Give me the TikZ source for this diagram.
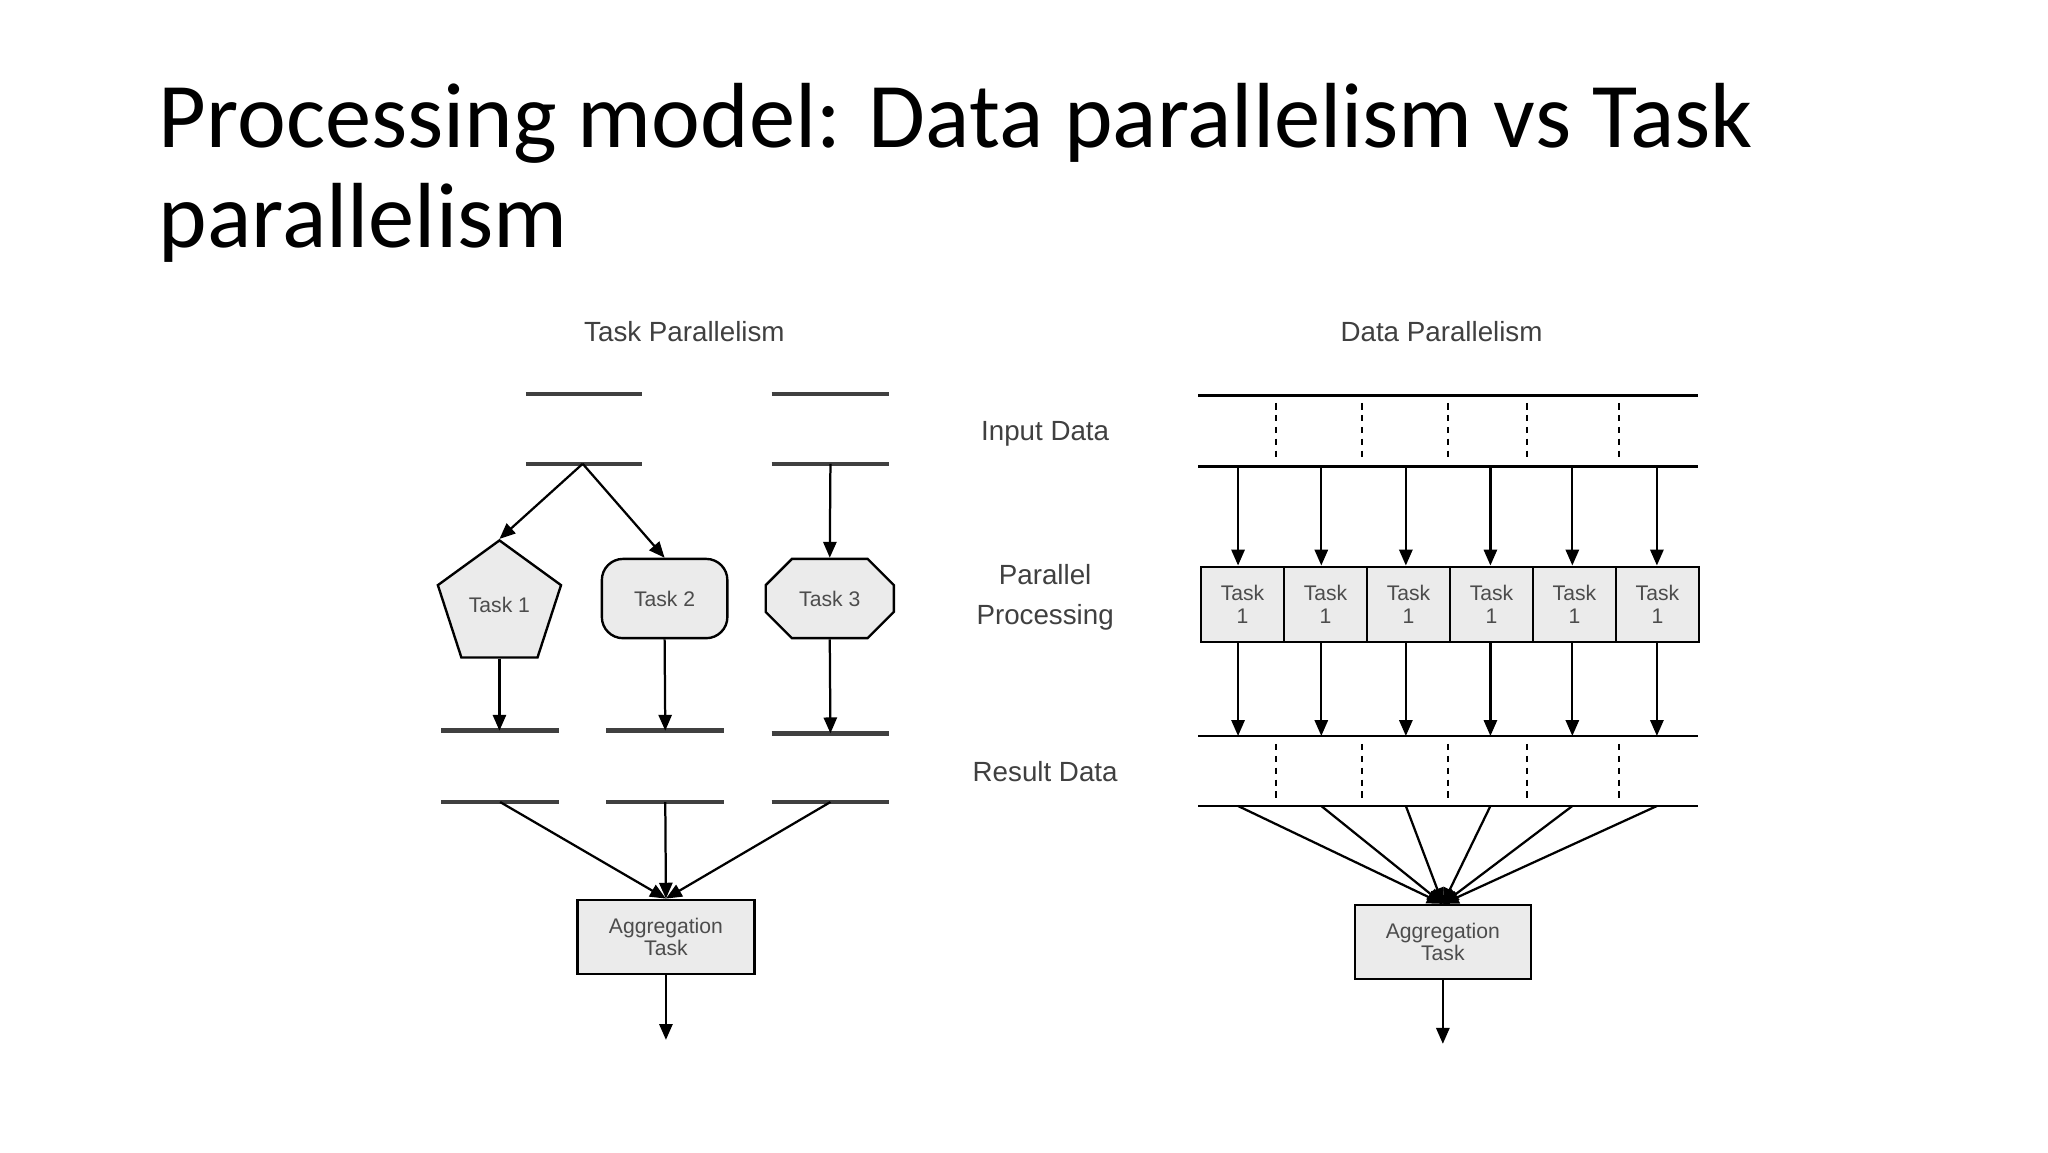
\documentclass[tikz,border=0pt]{standalone}
\usepackage{fontspec}
\setmainfont{Carlito}
\newfontfamily\dia{Liberation Sans}
\usetikzlibrary{shapes.geometric,shapes.misc,arrows.meta}
\begin{document}
\begin{tikzpicture}[x=1pt,y=-1pt,
  bar/.style={line width=3.4pt,draw=black!75},
  arr/.style={line width=1.7pt,-{Triangle[length=12pt,width=10pt]}},
  ln/.style={line width=2.2pt},
  dsh/.style={line width=1.6pt,dashed,dash pattern=on 5pt off 4pt},
  lab/.style={font=\dia\fontsize{21}{30}\selectfont,text=black!75,align=center},
  tsk/.style={draw,line width=1.8pt,fill=black!8,font=\dia\fontsize{16}{16}\selectfont,text=black!70,align=center,inner sep=2pt},
  dbox/.style={draw,line width=2pt,fill=black!8,minimum width=62.8pt,minimum height=57pt,font=\dia\fontsize{16}{17}\selectfont,text=black!70,align=center,anchor=north west,inner sep=1pt}]
\useasboundingbox (0,0) rectangle (1550,872);
\fill[white] (0,0) rectangle (1550,872);
\node[anchor=base west,font=\fontsize{70}{75}\selectfont,inner sep=0] (title) at (120,112) {Processing model: Data parallelism vs Task};
\node[anchor=base west,font=\fontsize{70}{75}\selectfont,inner sep=0] (title2) at (120,187) {parallelism};
\node[lab] (tp) at (518,251) {Task Parallelism};
\node[lab] (dp) at (1091,251) {Data Parallelism};
\node[lab] (in) at (791,328) {Input Data};
\node[lab] (pp) at (791,452) {Parallel\\Processing};
\node[lab] (rd) at (791,584) {Result Data};
% task side bars
\foreach \n/\a/\b/\y in {a1/398/486/298,a2/398/486/351,c1/584/673/298,c2/584/673/351,
  r1/334/423/553,r2/459/548/553,r3/584/673/555,s1/334/423/607,s2/459/548/607,s3/584/673/607}
  {\draw[bar] (\a,\y) -- (\b,\y); \coordinate (\n) at ({(\a+\b)/2},\y);}
\coordinate (split) at (441,351);
\node[tsk,regular polygon,regular polygon sides=5,minimum size=98pt] (t1) at (378,458) {Task 1};
\node[tsk,rectangle,rounded corners=16pt,minimum width=95pt,minimum height=60pt] (t2) at (503,453) {Task 2};
\node[tsk,chamfered rectangle,chamfered rectangle xsep=14pt,chamfered rectangle ysep=14pt,minimum width=97pt,minimum height=60pt,inner sep=0pt] (t3) at (628,453) {Task 3};
\draw[arr] (split) -- (t1.corner 1);
\draw[arr] (split) -- (t2.north);
\draw[arr] (c2) -- (t3.north);
\draw[arr] (t1.south) -- (t1.south |- r1);
\draw[arr] (t2.south) -- (r2);
\draw[arr] (t3.south) -- (r3);
\node[tsk,minimum width=134pt,minimum height=56pt,font=\dia\fontsize{16}{17}\selectfont] (ag1) at (504,709) {Aggregation\\Task};
\foreach \s in {s1,s2,s3} \draw[arr] (\s) -- (ag1.north);
\coordinate (o1) at (504,787);
\draw[arr] (ag1.south) -- (o1);
% data side
\foreach \n/\y in {d1/299,d2/353,d3/557,d4/610} {\draw[ln] (907,\y) -- (1285,\y); \coordinate (\n) at (1096,\y);}
\foreach \x in {966,1031,1096,1156,1225} {\draw[dsh] (\x,305) -- (\x,349); \draw[dsh] (\x,563) -- (\x,606);}
\foreach \i/\x in {1/908,2/970.8,3/1033.6,4/1096.4,5/1159.2,6/1222} {\node[dbox] (b\i) at (\x,428) {Task\\1};}
\node[tsk,minimum width=133pt,minimum height=56pt,font=\dia\fontsize{16}{17}\selectfont] (ag2) at (1092,713) {Aggregation\\Task};
\foreach \i/\x in {1/937,2/1000,3/1064,4/1128,5/1190,6/1254} {
  \coordinate (u\i) at (\x,353); \coordinate (v\i) at (\x,557); \coordinate (w\i) at (\x,610);
  \draw[arr] (u\i) -- (u\i |- b\i.north);
  \draw[arr] (u\i |- b\i.south) -- (v\i);
  \draw[arr] (w\i) -- (ag2.north);}
\coordinate (o2) at (1092,790);
\draw[arr] (ag2.south) -- (o2);
\end{tikzpicture}
\end{document}
